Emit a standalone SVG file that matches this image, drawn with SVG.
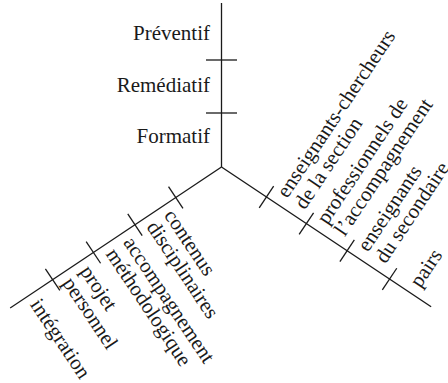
<svg xmlns="http://www.w3.org/2000/svg" width="448" height="383" viewBox="0 0 448 383">
<style>
.ax{stroke:#1a1a1a;stroke-width:1.3;fill:none}
.t{font-family:'Liberation Serif','Times New Roman','DejaVu Serif',serif;font-size:21px;fill:#1a1a1a}
</style>
<rect width="448" height="383" fill="#fff"/>
<g id="connectors">
<g id="axis-vertical">
<line class="ax" x1="221.5" y1="3" x2="221.5" y2="167"/>
<line class="ax" x1="206" y1="60" x2="237" y2="60"/>
<line class="ax" x1="206" y1="113" x2="237" y2="113"/>
</g>
<g id="axis-right" transform="translate(221.5,167) rotate(33.7)">
<line class="ax" x1="0" y1="0" x2="252" y2="0"/>
<line class="ax" x1="54" y1="-13" x2="54" y2="13"/>
<line class="ax" x1="102" y1="-13" x2="102" y2="13"/>
<line class="ax" x1="151" y1="-13" x2="151" y2="13"/>
<line class="ax" x1="202" y1="-13" x2="202" y2="13"/>
</g>
<g id="axis-left" transform="translate(221.5,167) rotate(146.3)">
<line class="ax" x1="0" y1="0" x2="254" y2="0"/>
<line class="ax" x1="55" y1="-13" x2="55" y2="13"/>
<line class="ax" x1="104" y1="-13" x2="104" y2="13"/>
<line class="ax" x1="154" y1="-13" x2="154" y2="13"/>
<line class="ax" x1="203" y1="-13" x2="203" y2="13"/>
</g>
</g>
<g class="t" font-family="'Liberation Serif','Times New Roman','DejaVu Serif',serif" font-size="21">
<g id="node-preventif"><text x="210" y="40" text-anchor="end">Préventif</text></g>
<g id="node-remediatif"><text x="210" y="92" text-anchor="end">Remédiatif</text></g>
<g id="node-formatif"><text x="210" y="143" text-anchor="end">Formatif</text></g>
<g transform="translate(221.5,167) rotate(33.7)">
<g id="node-enseignants-chercheurs"><text transform="translate(72.5,-10) rotate(-90)">enseignants-chercheurs</text><text transform="translate(93.5,-10) rotate(-90)">de la section</text></g>
<g id="node-professionnels"><text transform="translate(120.5,-10) rotate(-90)">professionnels de</text><text transform="translate(141.5,-10) rotate(-90)">l’accompagnement</text></g>
<g id="node-enseignants-secondaire"><text transform="translate(169.5,-10) rotate(-90)">enseignants</text><text transform="translate(190.5,-10) rotate(-90)">du secondaire</text></g>
<g id="node-pairs"><text transform="translate(233,-9) rotate(-90)">pairs</text></g>
</g>
<g transform="translate(221.5,167) rotate(146.3)">
<g id="node-contenus"><text transform="translate(75,-8) rotate(-90)">contenus</text><text transform="translate(96,-8) rotate(-90)">disciplinaires</text></g>
<g id="node-accompagnement"><text transform="translate(124,-8) rotate(-90)">accompagnement</text><text transform="translate(145,-8) rotate(-90)">méthodologique</text></g>
<g id="node-projet"><text transform="translate(176,-8) rotate(-90)">projet</text><text transform="translate(197,-8) rotate(-90)">personnel</text></g>
<g id="node-integration"><text transform="translate(236,-8) rotate(-90)">intégration</text></g>
</g>
</g>
</svg>
